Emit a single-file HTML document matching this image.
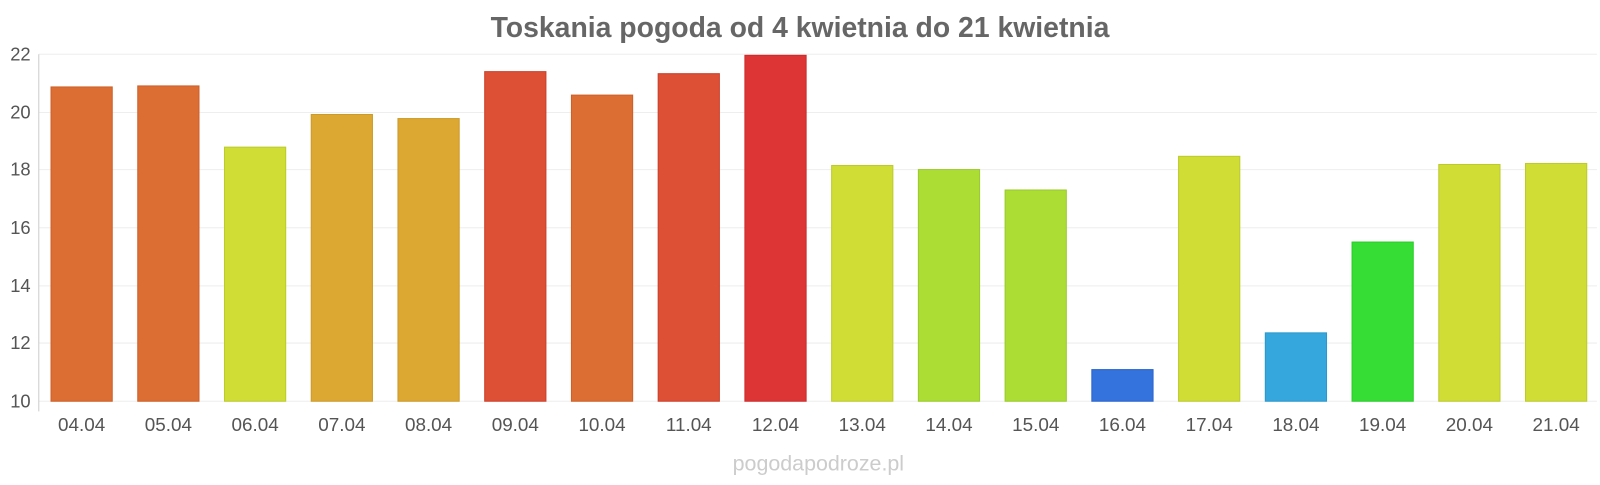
<!DOCTYPE html>
<html><head><meta charset="utf-8"><style>
body{margin:0;background:#fff;width:1600px;height:480px;overflow:hidden}
</style></head><body>
<svg width="1600" height="480" viewBox="0 0 1568 470" xmlns="http://www.w3.org/2000/svg" font-family="Liberation Sans, sans-serif">
<text x="784" y="36" text-anchor="middle" font-size="27.8" font-weight="bold" fill="#666">Toskania pogoda od 4 kwietnia do 21 kwietnia</text>
<g stroke="#eee" stroke-width="1">
<line x1="38" x2="1565" y1="53" y2="53"/><line x1="38" x2="1565" y1="110" y2="110"/><line x1="38" x2="1565" y1="166" y2="166"/><line x1="38" x2="1565" y1="223" y2="223"/><line x1="38" x2="1565" y1="280" y2="280"/><line x1="38" x2="1565" y1="336" y2="336"/><line x1="38" x2="1565" y1="393" y2="393"/>
</g>
<line x1="38" x2="38" y1="53" y2="403" stroke="#ccc"/>
<g font-size="18" fill="#555" text-anchor="end">
<text x="30" y="59">22</text><text x="30" y="116">20</text><text x="30" y="172">18</text><text x="30" y="229">16</text><text x="30" y="286">14</text><text x="30" y="342">12</text><text x="30" y="399">10</text>
</g>
<g stroke-width="1">
<rect x="50" y="85" width="60" height="308" fill="#dd6e33" stroke="#cc5f28"/>
<rect x="135" y="84" width="60" height="309" fill="#dd6e33" stroke="#cc5f28"/>
<rect x="220" y="144" width="60" height="249" fill="#cfdd35" stroke="#bccb2a"/>
<rect x="305" y="112" width="60" height="281" fill="#dca832" stroke="#cc9a28"/>
<rect x="390" y="116" width="60" height="277" fill="#dca832" stroke="#cc9a28"/>
<rect x="475" y="70" width="60" height="323" fill="#dd5035" stroke="#cc402a"/>
<rect x="560" y="93" width="60" height="300" fill="#dd6e33" stroke="#cc5f28"/>
<rect x="645" y="72" width="60" height="321" fill="#dd5035" stroke="#cc402a"/>
<rect x="730" y="54" width="60" height="339" fill="#dd3535" stroke="#cc2a2a"/>
<rect x="815" y="162" width="60" height="231" fill="#cfdd35" stroke="#bccb2a"/>
<rect x="900" y="166" width="60" height="227" fill="#acdd35" stroke="#9acb2a"/>
<rect x="985" y="186" width="60" height="207" fill="#acdd35" stroke="#9acb2a"/>
<rect x="1070" y="362" width="60" height="31" fill="#3473dd" stroke="#2a64cc"/>
<rect x="1155" y="153" width="60" height="240" fill="#cfdd35" stroke="#bccb2a"/>
<rect x="1240" y="326" width="60" height="67" fill="#35a7dd" stroke="#2a98cc"/>
<rect x="1325" y="237" width="60" height="156" fill="#35dd35" stroke="#2acc2a"/>
<rect x="1410" y="161" width="60" height="232" fill="#cfdd35" stroke="#bccb2a"/>
<rect x="1495" y="160" width="60" height="233" fill="#cfdd35" stroke="#bccb2a"/>
</g>
<g font-size="18.5" fill="#555" text-anchor="middle">
<text x="80" y="422">04.04</text><text x="165" y="422">05.04</text><text x="250" y="422">06.04</text><text x="335" y="422">07.04</text><text x="420" y="422">08.04</text><text x="505" y="422">09.04</text><text x="590" y="422">10.04</text><text x="675" y="422">11.04</text><text x="760" y="422">12.04</text><text x="845" y="422">13.04</text><text x="930" y="422">14.04</text><text x="1015" y="422">15.04</text><text x="1100" y="422">16.04</text><text x="1185" y="422">17.04</text><text x="1270" y="422">18.04</text><text x="1355" y="422">19.04</text><text x="1440" y="422">20.04</text><text x="1525" y="422">21.04</text>
</g>
<text x="802" y="461" text-anchor="middle" font-size="21" fill="#ccc">pogodapodroze.pl</text>
</svg>
</body></html>
